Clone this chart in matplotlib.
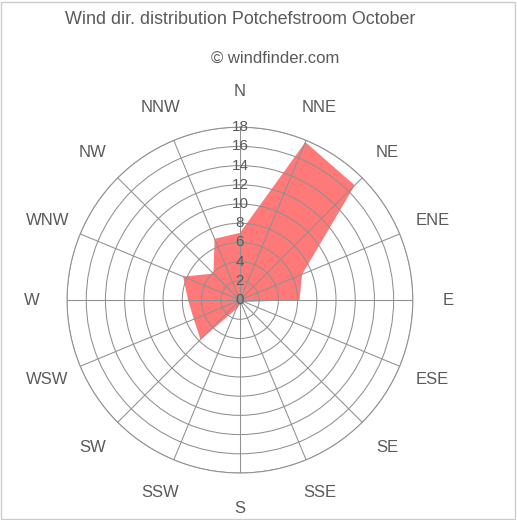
import numpy as np
import matplotlib
matplotlib.use("Agg")
import matplotlib.pyplot as plt
from matplotlib.patches import Rectangle

# wind direction distribution, percent per sector
directions = ["N", "NNE", "NE", "ENE", "E", "ESE", "SE", "SSE",
              "S", "SSW", "SW", "WSW", "W", "WNW", "NW", "NNW"]
values = [7.0, 17.8, 16.9, 7.0, 6.2, 0.5, 0.5, 0.5,
          0.5, 1.0, 5.8, 5.2, 5.4, 6.4, 3.9, 6.9]
ring_ticks = [0, 2, 4, 6, 8, 10, 12, 14, 16, 18]
title = "Wind dir. distribution Potchefstroom October"
credit = "\u00a9 windfinder.com"

plt.rcParams['font.family'] = ['Liberation Sans', 'DejaVu Sans']
grey_text = '#5a5a5a'
grid_col = '#909090'

fig = plt.figure(figsize=(5.17, 5.20), dpi=100)
fig.patch.set_facecolor('white')
fig.patches.append(Rectangle((0.002, 0.002), 0.994, 0.994, transform=fig.transFigure,
                             fill=False, edgecolor='#cccccc', linewidth=1))

ax = fig.add_axes([0.1296, 0.0904, 0.669, 0.665], projection='polar')
ax.set_theta_zero_location('N')
ax.set_theta_direction(-1)

theta = np.deg2rad(np.arange(len(directions)) * 22.5)
t_closed = np.append(theta, theta[0])
v_closed = np.append(values, values[0])
ax.fill(t_closed, v_closed, color='#ff2020', alpha=0.6, linewidth=0, zorder=1)

rmax = ring_ticks[-1]
ax.set_ylim(0, rmax)
ax.set_yticks(ring_ticks[1:])
ax.set_yticklabels([])
ax.set_xticks(theta)
ax.set_xticklabels([])
ax.grid(True, color=grid_col, linewidth=0.75)
ax.spines['polar'].set_color(grid_col)
ax.spines['polar'].set_linewidth(0.75)
ax.tick_params(length=0)

# radial scale labels along the N axis
for r in ring_ticks:
    ax.text(0, r, str(r), ha='center', va='center', fontsize=11,
            color=grey_text, zorder=3)

# compass labels outside the rings
for th, name in zip(theta, directions):
    ax.text(th, rmax * 1.205, name, ha='center', va='center', fontsize=12,
            color=grey_text, clip_on=False)

fig.text(240 / 517, 1 - 20 / 520, title, ha='center', va='center',
         fontsize=12.9, color=grey_text)
fig.text(275 / 517, 1 - 58 / 520, credit, ha='center', va='center',
         fontsize=12, color=grey_text)

fig.savefig("out.png", dpi=100, facecolor='white')
